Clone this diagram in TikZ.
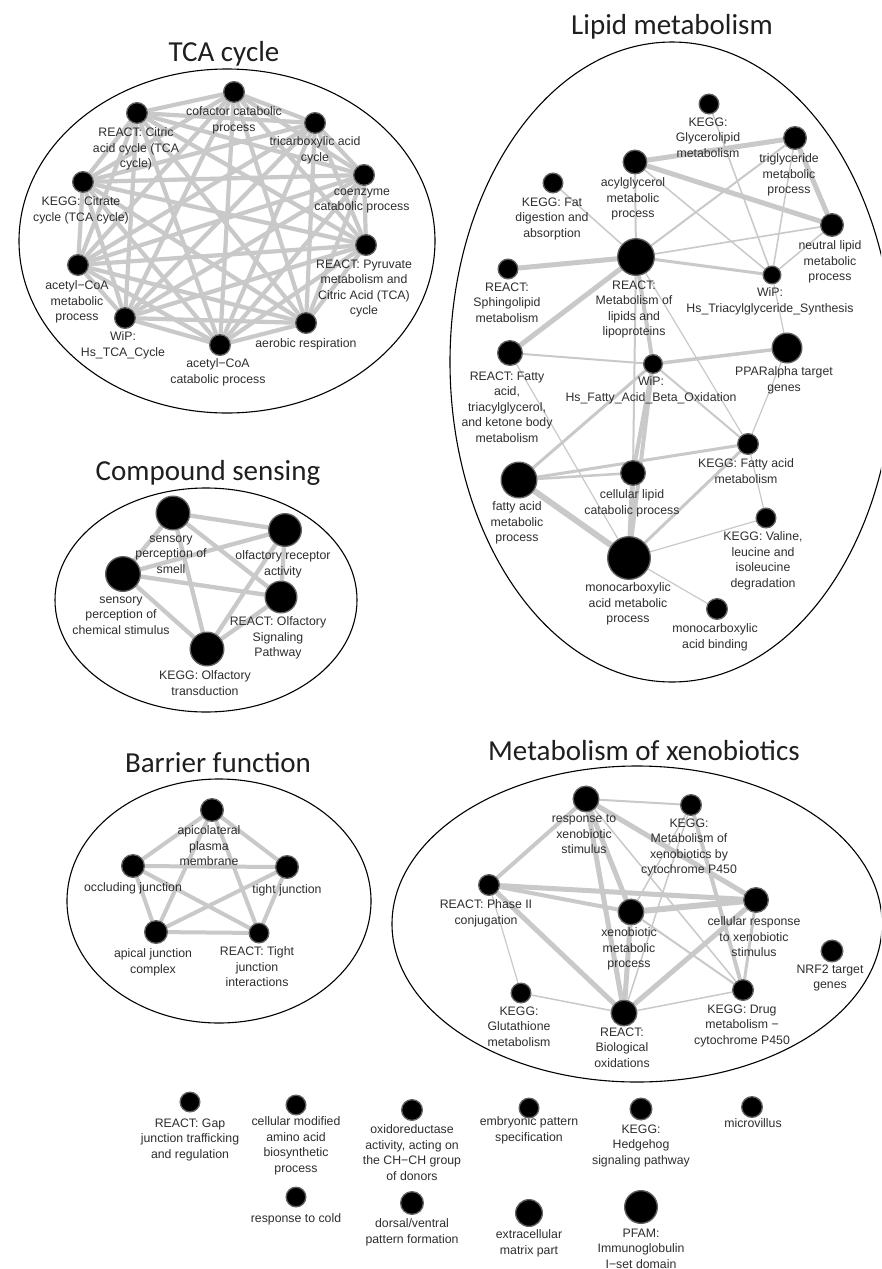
\documentclass[tikz,border=0pt]{standalone}
\usepackage{fontspec}
\setmainfont{Liberation Sans}
\newfontfamily\titlefont{Carlito}
\pgfdeclarelayer{paper}
\pgfdeclarelayer{edges}
\pgfsetlayers{paper,edges,main}
\tikzset{
  gnode/.style={circle, fill=black, draw=black!62, line width=1.3pt, inner sep=0pt, minimum size=#1},
  glabel/.style={anchor=north, align=center, inner sep=0pt, text=black!82,
    font=\fontsize{12.3}{15.5}\selectfont, execute at begin node=\strut},
  gtitle/.style={anchor=base, inner sep=0pt, text=black!88, font=\titlefont\fontsize{29}{34}\selectfont},
  cluster/.style={draw=black, line width=1.1pt},
  glink/.style={draw=black!21, line width=#1, line cap=butt},
}
% node: name, x, y, radius
\newcommand\gn[4]{\node[gnode={2*#4pt-1.3pt}] (#1) at (#2,#3) {};}
% label: name, x, first-line y, text
\newcommand\gl[4]{\node[glabel] (#1) at (#2,#3-6.5) {#4};}
\begin{document}
\begin{tikzpicture}[x=1pt,y=-1pt]
\useasboundingbox (0,0) rectangle (881,1269);
\begin{pgfonlayer}{paper}
\fill[white] (0,0) rectangle (881,1269);
\end{pgfonlayer}

% ---------------- cluster outlines ----------------
\begin{scope}
\clip (0,0) rectangle (881,1269);
\draw[cluster] (227,241) ellipse [x radius=208pt, y radius=172pt];
\draw[cluster] (672,362) ellipse [x radius=222pt, y radius=320pt];
\draw[cluster] (206,600) ellipse [x radius=151pt, y radius=112pt];
\draw[cluster] (219,901) ellipse [x radius=152pt, y radius=122pt];
\draw[cluster] (637,924) ellipse [x radius=245pt, y radius=158pt];
\end{scope}

% ---------------- titles ----------------
\node[gtitle] (ttca) at (224,61) {TCA cycle};
\node[gtitle] (tlip) at (672,34) {Lipid metabolism};
\node[gtitle] (tcmp) at (208,480) {Compound sensing};
\node[gtitle] (tbar) at (218,772) {Barrier function};
\node[gtitle] (txen) at (644,760) {Metabolism of xenobiotics};

% ---------------- TCA cycle ----------------
\gn{t1}{234}{92}{11}
\gn{t2}{137}{113}{11}
\gn{t3}{315}{123}{11}
\gn{t4}{83}{182}{11}
\gn{t5}{364}{175}{11}
\gn{t6}{366}{245}{11}
\gn{t7}{78}{265}{11}
\gn{t8}{125}{318}{11}
\gn{t9}{306}{323}{11}
\gn{t10}{220}{345}{11}
\begin{pgfonlayer}{edges}
\foreach \i in {1,...,9}{
  \pgfmathtruncatemacro\j{\i+1}
  \foreach \k in {\j,...,10}{\draw[glink=4.2pt] (t\i) -- (t\k);}
}
\end{pgfonlayer}
\gl{lt1}{234}{113}{cofactor catabolic\\process}
\gl{lt2}{136}{134}{REACT: Citric\\acid cycle (TCA\\cycle)}
\gl{lt3}{315}{143}{tricarboxylic acid\\cycle}
\gl{lt4}{81}{203}{KEGG: Citrate\\cycle (TCA cycle)}
\gl{lt5}{362}{195}{coenzyme\\catabolic process}
\gl{lt6}{364}{266}{REACT: Pyruvate\\metabolism and\\Citric Acid (TCA)\\cycle}
\gl{lt7}{77}{287}{acetyl−CoA\\metabolic\\process}
\gl{lt8}{123}{338}{WiP:\\Hs\_TCA\_Cycle}
\gl{lt9}{306}{343}{aerobic respiration}
\gl{lt10}{218}{365}{acetyl−CoA\\catabolic process}

% ---------------- Lipid metabolism ----------------
\gn{kgly}{709}{104}{10.5}
\gn{trig}{795}{138}{12}
\gn{acyl}{635}{162}{12.5}
\gn{kfat}{553}{183}{10.5}
\gn{neut}{832}{225}{12}
\gn{rmet}{636}{257}{19}
\gn{sphi}{508}{269}{10.5}
\gn{wtri}{772}{275}{9.5}
\gn{ppar}{787}{348}{15.5}
\gn{rfat}{510}{353}{13}
\gn{wbeta}{653}{364}{10}
\gn{kfam}{748}{444}{11}
\gn{clc}{633}{473}{13}
\gn{fam}{519}{480}{18.5}
\gn{kval}{766}{518}{10.5}
\gn{mono}{629}{558}{22}
\gn{mab}{717}{609}{11}
\begin{pgfonlayer}{edges}
\foreach \a/\b/\w in {
  acyl/trig/5, acyl/neut/5, trig/neut/5, acyl/rmet/2, acyl/wtri/1.5,
  kgly/wtri/1.5, trig/rmet/2, trig/wtri/1.5, neut/rmet/1.6, neut/wtri/1.5,
  kfat/rmet/1.5, sphi/rmet/5, rmet/wtri/3, rmet/rfat/5, rmet/wbeta/4,
  rmet/clc/2, rmet/kfam/1.2, rfat/wbeta/2, rfat/mono/1.2, wbeta/ppar/3.5,
  wbeta/fam/3, wbeta/clc/4, wbeta/mono/4, wbeta/kfam/2, wtri/ppar/1.2,
  ppar/kfam/1.2, fam/clc/2.5, fam/kfam/3, fam/mono/6, clc/mono/5,
  kfam/mono/3, kfam/kval/1.2, mono/kval/1.2, mono/mab/1.2}
  {\draw[glink=\w pt] (\a) -- (\b);}
\end{pgfonlayer}
\gl{lkgly}{708}{124}{KEGG:\\Glycerolipid\\metabolism}
\gl{ltrig}{789}{160}{triglyceride\\metabolic\\process}
\gl{lacyl}{633}{184}{acylglycerol\\metabolic\\process}
\gl{lkfat}{552}{204}{KEGG: Fat\\digestion and\\absorption}
\gl{lneut}{830}{247}{neutral lipid\\metabolic\\process}
\gl{lrmet}{634}{287}{REACT:\\Metabolism of\\lipids and\\lipoproteins}
\gl{lsphi}{507}{289}{REACT:\\Sphingolipid\\metabolism}
\gl{lwtri}{770}{294}{WiP:\\Hs\_Triacylglyceride\_Synthesis}
\gl{lppar}{784}{373}{PPARalpha target\\genes}
\gl{lrfat}{507}{378}{REACT: Fatty\\acid,\\triacylglycerol,\\and ketone body\\metabolism}
\gl{lwbeta}{651}{383}{WiP:\\Hs\_Fatty\_Acid\_Beta\_Oxidation}
\gl{lkfam}{746}{465}{KEGG: Fatty acid\\metabolism}
\gl{lclc}{632}{496}{cellular lipid\\catabolic process}
\gl{lfam}{517}{508}{fatty acid\\metabolic\\process}
\gl{lkval}{763}{538}{KEGG: Valine,\\leucine and\\isoleucine\\degradation}
\gl{lmono}{628}{589}{monocarboxylic\\acid metabolic\\process}
\gl{lmab}{715}{630}{monocarboxylic\\acid binding}

% ---------------- Compound sensing ----------------
\gn{smell}{173}{513}{17.5}
\gn{ora}{285}{530}{17}
\gn{chem}{123}{574}{18}
\gn{rolf}{281}{597}{16.5}
\gn{kolf}{207}{649}{17.5}
\begin{pgfonlayer}{edges}
\foreach \a/\b in {smell/ora, smell/chem, smell/rolf, smell/kolf, chem/ora,
  chem/rolf, chem/kolf, ora/rolf, ora/kolf, rolf/kolf}
  {\draw[glink=4.3pt] (\a) -- (\b);}
\end{pgfonlayer}
\gl{lsmell}{171}{542}{sensory\\perception of\\smell}
\gl{lora}{283}{557}{olfactory receptor\\activity}
\gl{lchem}{121}{603}{sensory\\perception of\\chemical stimulus}
\gl{lrolf}{278}{623}{REACT: Olfactory\\Signaling\\Pathway}
\gl{lkolf}{205}{677}{KEGG: Olfactory\\transduction}

% ---------------- Barrier function ----------------
\gn{apm}{212}{810}{12}
\gn{occ}{133}{866}{12}
\gn{tj}{287}{867}{12}
\gn{ajc}{156}{932}{12}
\gn{rtj}{259}{933}{10.5}
\begin{pgfonlayer}{edges}
\foreach \a/\b in {apm/occ, apm/tj, apm/ajc, apm/rtj, occ/tj, occ/ajc,
  occ/rtj, tj/ajc, tj/rtj, ajc/rtj}
  {\draw[glink=4pt] (\a) -- (\b);}
\end{pgfonlayer}
\gl{lapm}{209}{832}{apicolateral\\plasma\\membrane}
\gl{locc}{133}{887}{occluding junction}
\gl{ltj}{287}{889}{tight junction}
\gl{lajc}{153}{955}{apical junction\\complex}
\gl{lrtj}{257}{953}{REACT: Tight\\junction\\interactions}

% ---------------- Metabolism of xenobiotics ----------------
\gn{resp}{586}{799}{13.5}
\gn{kmx}{691}{805}{11}
\gn{rp2}{489}{885}{11}
\gn{cell}{756}{900}{13}
\gn{xmp}{631}{912}{13.5}
\gn{nrf}{832}{951}{11.5}
\gn{kglu}{521}{993}{10.5}
\gn{rbo}{624}{1013}{13.5}
\gn{kdrug}{743}{990}{11}
\begin{pgfonlayer}{edges}
\foreach \a/\b/\w in {
  resp/kmx/2, resp/rp2/4, resp/cell/5, resp/xmp/5, resp/rbo/5,
  resp/kdrug/1.5, kmx/xmp/1.5, kmx/rbo/1.5, kmx/kdrug/4, rp2/cell/5,
  rp2/xmp/4, rp2/rbo/5, rp2/kglu/1.2, cell/xmp/6, cell/rbo/5,
  cell/kdrug/3, xmp/rbo/5, xmp/kdrug/2, kglu/rbo/1.5, rbo/kdrug/1.5}
  {\draw[glink=\w pt] (\a) -- (\b);}
\end{pgfonlayer}
\gl{lresp}{584}{821}{response to\\xenobiotic\\stimulus}
\gl{lkmx}{689}{825}{KEGG:\\Metabolism of\\xenobiotics by\\cytochrome P450}
\gl{lrp2}{486}{906}{REACT: Phase II\\conjugation}
\gl{lcell}{754}{923}{cellular response\\to xenobiotic\\stimulus}
\gl{lxmp}{629}{934}{xenobiotic\\metabolic\\process}
\gl{lnrf}{830}{971}{NRF2 target\\genes}
\gl{lkglu}{519}{1013}{KEGG:\\Glutathione\\metabolism}
\gl{lrbo}{622}{1034}{REACT:\\Biological\\oxidations}
\gl{lkdrug}{742}{1011}{KEGG: Drug\\metabolism −\\cytochrome P450}

% ---------------- unclustered terms ----------------
\gn{gap}{190}{1102}{10.5}
\gn{cmaa}{296}{1105}{10.5}
\gn{oxr}{412}{1110}{11}
\gn{emb}{529}{1108}{10.5}
\gn{hh}{641}{1109}{11.5}
\gn{mv}{752}{1107}{11}
\gn{cold}{296}{1197}{10.5}
\gn{dv}{412}{1203}{12}
\gn{ecm}{529}{1213}{14}
\gn{pfam}{641}{1207}{17}
\gl{lgap}{190}{1125}{REACT: Gap\\junction trafficking\\and regulation}
\gl{lcmaa}{296}{1123}{cellular modified\\amino acid\\biosynthetic\\process}
\gl{loxr}{412}{1131}{oxidoreductase\\activity, acting on\\the CH−CH group\\of donors}
\gl{lemb}{529}{1123}{embryonic pattern\\specification}
\gl{lhh}{641}{1131}{KEGG:\\Hedgehog\\signaling pathway}
\gl{lmv}{753}{1123}{microvillus}
\gl{lcold}{296}{1218}{response to cold}
\gl{ldv}{412}{1225}{dorsal/ventral\\pattern formation}
\gl{lecm}{529}{1236}{extracellular\\matrix part}
\gl{lpfam}{641}{1235}{PFAM:\\Immunoglobulin\\I−set domain}
\end{tikzpicture}
\end{document}
